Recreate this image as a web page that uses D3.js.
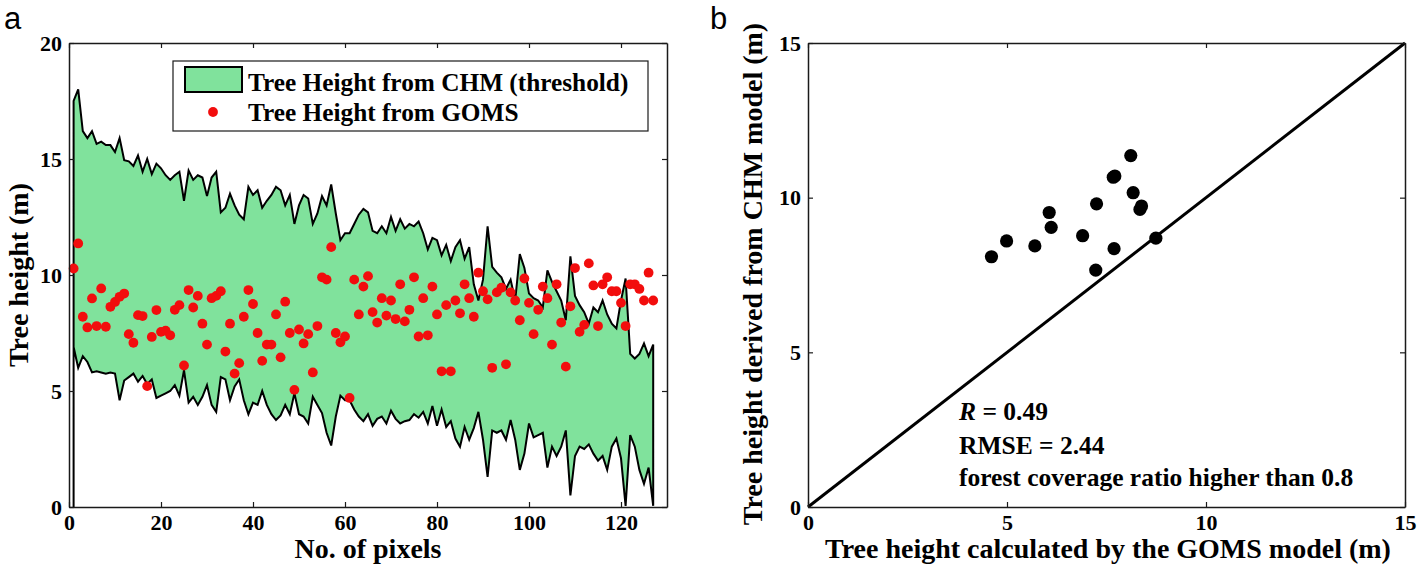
<!DOCTYPE html>
<html><head><meta charset="utf-8">
<script src="https://cdn.jsdelivr.net/npm/d3@7"></script>
<style>
body{margin:0;background:#fff}
svg{display:block}
text.serif{font-family:"Liberation Serif","Times New Roman",serif;font-weight:bold;fill:#000}
text.letter{font-family:"Liberation Sans",Arial,sans-serif;font-weight:normal;fill:#000}
</style>
</head><body>
<svg id="chart" width="1418" height="579"></svg>
<script>
// ---------- Panel a data ----------
const chmUpper = [
 17.5,18.0,16.2,15.9,16.2,15.65,15.75,15.6,15.6,15.3,15.9,14.95,14.9,14.7,15.15,14.45,15.0,14.35,14.8,14.6,
 14.3,14.1,14.3,14.45,13.2,14.5,14.1,14.3,14.2,13.4,14.2,14.45,12.7,12.9,13.5,13.0,12.6,12.4,13.8,13.45,13.65,12.9,
 13.2,13.45,13.8,13.65,13.0,13.45,12.2,13.0,13.45,13.3,12.2,12.65,13.4,13.0,13.9,12.65,11.5,11.8,11.8,12.2,
 12.6,12.85,12.7,11.9,11.8,12.1,11.8,12.5,11.9,12.4,12.0,12.2,12.1,12.3,11.8,11.1,11.6,11.5,10.85,11.3,10.6,11.2,
 11.5,10.7,11.2,9.6,8.9,9.8,12.1,10.35,10.1,9.9,9.4,9.8,8.9,10.9,10.3,9.2,9.0,8.9,8.6,10.2,9.7,9.3,8.9,8.05,
 10.8,9.1,8.7,8.4,7.9,8.6,8.4,8.9,8.3,7.9,7.7,8.9,9.85,6.6,6.4,6.6,7.05,6.5,7.0
];
const chmLower = [
 6.9,6.0,6.5,6.25,5.8,5.85,5.8,5.75,5.8,5.75,4.6,5.45,5.6,5.75,5.4,5.65,5.3,5.5,4.7,4.8,
 4.9,5.0,5.25,4.8,5.9,4.5,4.75,4.4,4.75,5.25,4.4,4.1,5.6,5.5,4.6,5.2,5.5,4.6,4.0,4.5,4.4,5.0,
 4.4,4.0,3.75,3.95,4.4,4.0,4.9,4.0,3.9,3.6,4.75,4.4,4.05,3.2,2.65,3.9,4.8,4.6,4.6,4.2,3.9,
 3.7,4.0,3.5,3.8,3.9,3.6,4.15,3.8,3.6,3.7,3.75,4.0,3.85,4.1,3.6,4.35,3.5,4.2,3.45,3.7,2.95,
 2.6,3.45,2.9,3.4,4.1,2.9,1.3,3.3,3.2,3.3,2.9,3.75,2.9,
 1.6,2.3,3.6,3.0,3.1,3.2,1.7,2.6,2.2,2.6,3.3,0.5,2.2,2.6,2.5,2.7,2.3,2.0,2.2,1.6,2.6,2.95,2.1,0.05,3.1,2.6,1.6,1.0,1.7,0.05
];
const gomsHeight = [
 10.28,11.36,8.2,7.74,8.99,7.8,9.42,7.77,8.63,8.84,9.06,9.2,7.45,7.08,8.27,8.23,5.21,7.33,8.49,7.55,
 7.6,7.4,8.5,8.7,6.1,9.35,8.6,9.1,7.9,7.0,9.0,9.1,9.3,6.7,7.9,5.75,6.2,8.2,9.35,8.75,7.5,6.3,7.0,7.0,
 8.3,6.45,8.85,7.5,5.05,7.65,7.05,7.45,5.8,7.8,9.9,9.8,11.2,7.5,7.1,7.35,4.7,9.8,8.3,9.5,
 9.95,8.4,7.95,9.0,8.25,8.9,8.1,9.6,8.0,8.5,9.9,7.35,9.0,7.4,9.5,8.3,5.85,8.7,5.85,8.9,8.35,
 9.6,9.0,8.2,10.1,9.3,8.95,6.0,9.25,9.45,6.15,9.25,8.9,8.05,9.85,8.8,7.45,8.5,9.5,9.0,7.0,9.6,7.95,
 6.05,8.65,10.3,7.55,7.85,10.5,9.55,7.8,9.6,9.9,9.3,9.3,8.8,7.8,9.6,9.6,9.4,8.9,10.1,8.9
];
const pixelNo = chmUpper.map((d, i) => i + 1);
const leftXTicks = [0, 20, 40, 60, 80, 100, 120];
const leftYTicks = [0, 5, 10, 15, 20];
const legendLabels = ["Tree Height from CHM (threshold)", "Tree Height from GOMS"];

// ---------- Panel b data ----------
const gomsModel = [4.61,4.99,5.70,6.06,6.11,6.90,7.25,7.23,7.69,7.67,7.71,8.11,8.17,8.34,8.38,8.74];
const chmModel  = [8.09,8.60,8.44,9.52,9.04,8.77,9.80,7.66,8.35,10.66,10.70,11.36,10.16,9.62,9.73,8.69];
const rightTicks = [0, 5, 10, 15];
const oneToOne = [0, 15];
const statsLines = ["= 0.49", "RMSE = 2.44", "forest coverage ratio higher than 0.8"];

// ---------- helpers ----------
const svg = d3.select("#chart");
const INK = "#1a1a1a";
function frame(g, x, y, xt, yt, fs) {
  const T = 5;
  const [x0, x1] = x.range(), [y0, y1] = y.range();
  const ax = g.append("g").attr("transform", `translate(0,${y0})`)
    .call(d3.axisBottom(x).tickValues(xt).tickSizeInner(-T).tickSizeOuter(0).tickPadding(7));
  const ay = g.append("g").attr("transform", `translate(${x0},0)`)
    .call(d3.axisLeft(y).tickValues(yt).tickSizeInner(-T).tickSizeOuter(0).tickPadding(7));
  const at = g.append("g").attr("transform", `translate(0,${y1})`)
    .call(d3.axisTop(x).tickValues(xt).tickSizeInner(-T).tickSizeOuter(0).tickFormat(""));
  const ar = g.append("g").attr("transform", `translate(${x1},0)`)
    .call(d3.axisRight(y).tickValues(yt).tickSizeInner(-T).tickSizeOuter(0).tickFormat(""));
  [ax, ay, at, ar].forEach(a => {
    a.select(".domain").attr("stroke", INK).attr("stroke-width", 1.5);
    a.selectAll(".tick line").attr("stroke", INK).attr("stroke-width", 1.2);
    a.selectAll("text").attr("class", "serif").style("font-size", fs + "px");
  });
}

// ---------- Panel a ----------
const ga = svg.append("g");
const xa = d3.scaleLinear().domain([0, 130]).range([69, 667]);
const ya = d3.scaleLinear().domain([0, 20]).range([507, 43]);

const poly = [[pixelNo[0], 0]]
  .concat(pixelNo.map((p, i) => [p, chmUpper[i]]))
  .concat(pixelNo.map((p, i) => [p, chmLower[i]]).reverse());
ga.append("path")
  .attr("d", d3.line().x(d => xa(d[0])).y(d => ya(d[1]))(poly) + "Z")
  .attr("fill", "#80e29c").attr("stroke", "#000").attr("stroke-width", 2)
  .attr("stroke-linejoin", "miter");

ga.append("g").selectAll("circle").data(gomsHeight).join("circle")
  .attr("cx", (d, i) => xa(pixelNo[i])).attr("cy", d => ya(d))
  .attr("r", 4.9).attr("fill", "#f20d0d");

frame(ga, xa, ya, leftXTicks, leftYTicks, 22);

// legend
const lg = ga.append("g");
lg.append("rect").attr("x", 173).attr("y", 61).attr("width", 475).attr("height", 70)
  .attr("fill", "#fff").attr("stroke", INK).attr("stroke-width", 1.2);
lg.append("rect").attr("x", 185).attr("y", 67).attr("width", 57).attr("height", 25)
  .attr("fill", "#80e29c").attr("stroke", "#000").attr("stroke-width", 2);
lg.append("circle").attr("cx", 213).attr("cy", 112).attr("r", 4.9).attr("fill", "#f20d0d");
lg.selectAll("text.leg").data(legendLabels).join("text").attr("class", "serif leg")
  .attr("x", 248).attr("y", (d, i) => i === 0 ? 91 : 121)
  .style("font-size", "25.3px").text(d => d);

// titles
ga.append("text").attr("class", "serif").attr("x", 368).attr("y", 558).attr("text-anchor", "middle")
  .style("font-size", "28px").text("No. of pixels");
ga.append("text").attr("class", "serif").attr("transform", "translate(28,275) rotate(-90)")
  .attr("text-anchor", "middle").style("font-size", "28px").text("Tree height (m)");
svg.append("text").attr("class", "letter").attr("x", 4).attr("y", 29).style("font-size", "31px").text("a");

// ---------- Panel b ----------
const gb = svg.append("g");
const xb = d3.scaleLinear().domain([0, 15]).range([808, 1405]);
const yb = d3.scaleLinear().domain([0, 15]).range([507, 43]);

gb.append("path")
  .attr("d", d3.line().x(d => xb(d)).y(d => yb(d))(oneToOne))
  .attr("stroke", "#000").attr("stroke-width", 3).attr("fill", "none");

gb.append("g").selectAll("circle").data(gomsModel).join("circle")
  .attr("cx", d => xb(d)).attr("cy", (d, i) => yb(chmModel[i]))
  .attr("r", 6.6).attr("fill", "#000");

frame(gb, xb, yb, rightTicks, rightTicks, 22);

const st = gb.append("g");
const r0 = st.append("text").attr("class", "serif").attr("x", 959).attr("y", 420).style("font-size", "25.5px");
r0.append("tspan").style("font-style", "italic").text("R");
r0.append("tspan").text(" " + statsLines[0]);
st.append("text").attr("class", "serif").attr("x", 959).attr("y", 454).style("font-size", "25.5px").text(statsLines[1]);
st.append("text").attr("class", "serif").attr("x", 959).attr("y", 486).style("font-size", "25.5px").text(statsLines[2]);

gb.append("text").attr("class", "serif").attr("x", 1108).attr("y", 558).attr("text-anchor", "middle")
  .style("font-size", "28px").text("Tree height calculated by the GOMS model (m)");
gb.append("text").attr("class", "serif").attr("transform", "translate(762,274) rotate(-90)")
  .attr("text-anchor", "middle").style("font-size", "28px").text("Tree height derived from CHM model (m)");
svg.append("text").attr("class", "letter").attr("x", 710).attr("y", 29).style("font-size", "31px").text("b");
</script>
</body></html>
